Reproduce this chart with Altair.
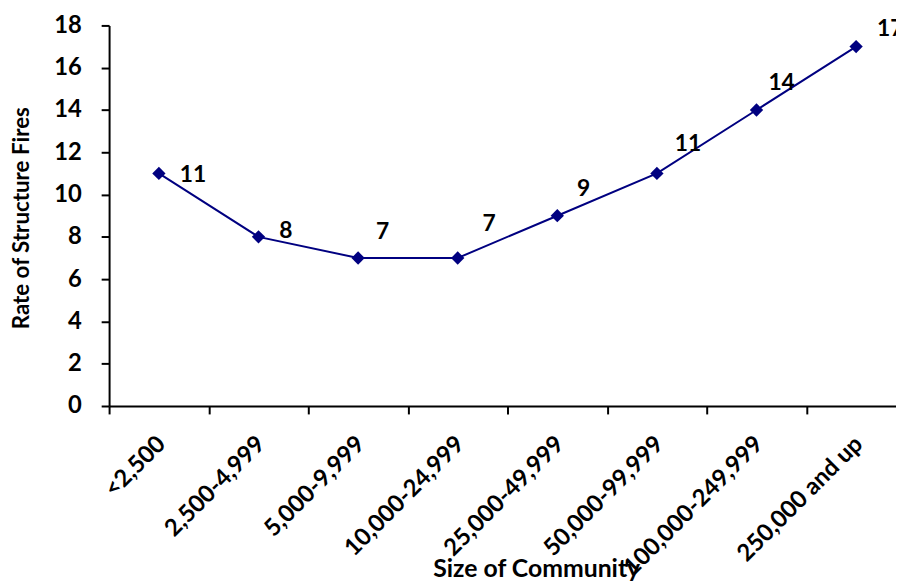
import altair as alt
import pandas as pd

# ---- data ----
categories = ["<2,500", "2,500-4,999", "5,000-9,999", "10,000-24,999",
              "25,000-49,999", "50,000-99,999", "100,000-249,999", "250,000 and up"]
rates = [11, 8, 7, 7, 9, 11, 14, 17]
y_ticks = [0, 2, 4, 6, 8, 10, 12, 14, 16, 18]

# style: per-label pixel nudges (dx, dy) of the value labels, as in the reference
label_nudges = [(21, 2), (21, -6), (18, -26), (25, -34), (20, -27), (18, -30), (12, -27), (21, -18)]

df = pd.DataFrame({"community": categories, "rate": rates})

FONT = "Lato"
NAVY = "#000080"

x_enc = alt.X(
    "community:N",
    sort=categories,
    scale=alt.Scale(type="band", range=[0, 804], paddingInner=0, paddingOuter=0),
    axis=alt.Axis(
        tickBand="extent",
        tickSize=8, tickWidth=2, tickColor="black",
        domainColor="black", domainWidth=2,
        labelAngle=-45, labelAlign="right", labelBaseline="top",
        labelPadding=18, labelOffset=-6,
        labelFont=FONT, labelFontSize=24, labelFontWeight="bold", labelColor="black",
        labelOverlap=False, labelBound=False, labelLimit=400,
        title="Size of Community",
        titleFont=FONT, titleFontSize=25, titleFontWeight="bold", titleColor="black",
        titleX=431, titleY=172, titleAlign="center", titleBaseline="alphabetic",
        grid=False,
    ),
)

y_enc = alt.Y(
    "rate:Q",
    scale=alt.Scale(domain=[0, 18], nice=False, zero=True),
    axis=alt.Axis(
        values=y_ticks, grid=False,
        tickSize=8, tickWidth=2, tickColor="black",
        domainColor="black", domainWidth=2,
        labelFont=FONT, labelFontSize=24, labelFontWeight="bold", labelColor="black",
        labelPadding=20, labelFlush=False,
        title="Rate of Structure Fires",
        titleFont=FONT, titleFontSize=22.5, titleFontWeight="bold", titleColor="black",
        titleX=-88, titleY=194, titleAngle=270, titleAlign="center", titleBaseline="middle",
    ),
)

base = alt.Chart(df).encode(x=x_enc, y=y_enc)

line = base.mark_line(color=NAVY, strokeWidth=2)
points = base.mark_point(shape="diamond", filled=True, color=NAVY, size=180, opacity=1)

label_layers = []
for cat, (ddx, ddy) in zip(categories, label_nudges):
    label_layers.append(
        base.transform_filter(alt.FieldEqualPredicate(field="community", equal=cat))
        .mark_text(align="left", baseline="middle", dx=ddx, dy=ddy,
                   font=FONT, fontSize=23, fontWeight="bold", color="black")
        .encode(text="rate:Q")
    )

chart = alt.layer(line, points, *label_layers).properties(
    width=794,
    height=384,
    autosize=alt.AutoSizeParams(type="none"),
    padding={"left": 102, "top": 15, "right": 0, "bottom": 175},
    background="white",
).configure_view(stroke=None)

chart.save("out.html", embed_options={"renderer": "svg", "actions": False})
